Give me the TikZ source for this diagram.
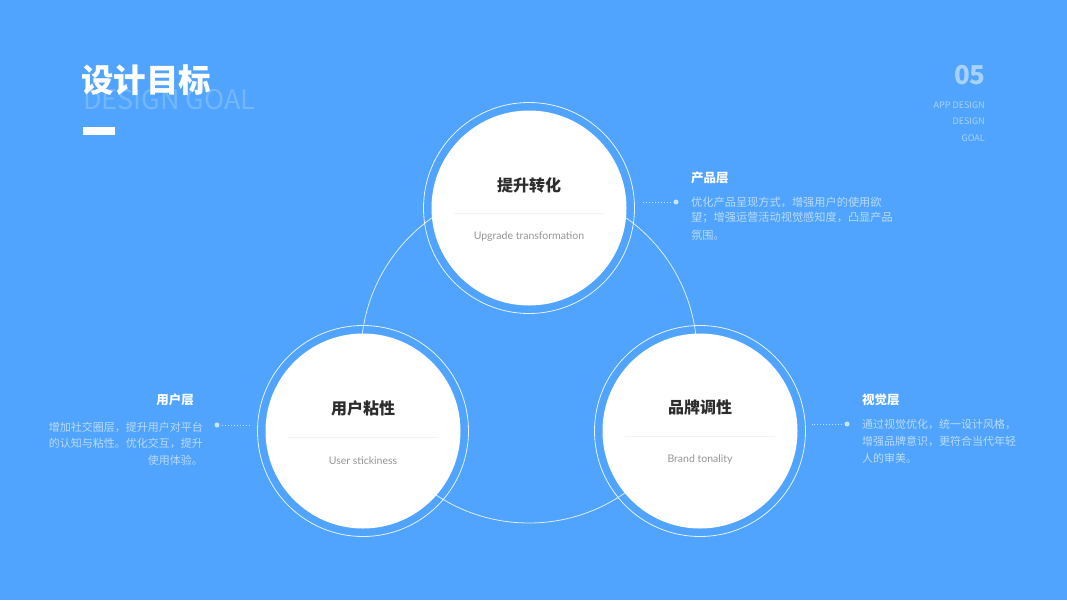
\documentclass[tikz,border=0pt]{standalone}
\usepackage{fontspec}
\newfontfamily\cjk{Noto Sans CJK SC}
\newfontfamily\lato{Lato}
\definecolor{bg}{RGB}{80,164,253}
\definecolor{ttl}{RGB}{45,45,45}
\definecolor{subc}{RGB}{150,150,150}
\definecolor{divl}{RGB}{243,243,243}
\begin{document}
\begin{tikzpicture}[x=1pt,y=-1pt,
  disc/.style={circle,fill=white,minimum size=195pt,inner sep=0pt},
  ring/.style={circle,draw=white,draw opacity=0.85,line width=0.8pt,minimum size=211pt,inner sep=0pt},
  bigring/.style={circle,draw=white,draw opacity=0.8,line width=0.8pt,minimum size=336pt,inner sep=0pt},
  ctitle/.style={font=\cjk\bfseries\fontsize{16}{18}\selectfont,text=ttl,inner sep=0pt},
  csub/.style={font=\lato\fontsize{10.5}{12}\selectfont,text=subc,inner sep=0pt},
  divider/.style={draw=divl,line width=0.9pt},
  btitle/.style={font=\cjk\bfseries\fontsize{12.5}{14}\selectfont,text=white,inner sep=0pt},
  btext/.style={font=\cjk\fontsize{11}{13}\selectfont,text=white,text opacity=0.6,inner sep=0pt},
  btextw/.style={font=\cjk\fontsize{11.2}{13}\selectfont,text=white,text opacity=0.6,inner sep=0pt},
  dotnode/.style={circle,fill=white,fill opacity=0.7,minimum size=5pt,inner sep=0pt},
  dotline/.style={draw=white,draw opacity=0.65,line width=0.7pt,dash pattern=on 1pt off 2pt},
  faint/.style={text=white,text opacity=0.5,inner sep=0pt}
]
\useasboundingbox (0,0) rectangle (1067,600);
\fill[bg] (0,0) rectangle (1067,600);

% header
\node[font=\cjk\fontsize{27}{30}\selectfont,text=white,text opacity=0.2,anchor=west,inner sep=0pt] (hdren) at (83,100) {DESIGN GOAL};
\node[font=\cjk\bfseries\fontsize{32.5}{36}\selectfont,text=white,anchor=west,inner sep=0pt] (hdr) at (81,80) {设计目标};
\fill[white] (83,127) rectangle (115,135);

\node[faint,font=\cjk\bfseries\fontsize{26}{28}\selectfont,anchor=east] (num) at (986,75) {05};
\node[faint,font=\cjk\fontsize{9}{10}\selectfont,anchor=east] (l1) at (985,105) {APP DESIGN};
\node[faint,font=\cjk\fontsize{9}{10}\selectfont,anchor=east] (l2) at (985,121) {DESIGN};
\node[faint,font=\cjk\fontsize{9}{10}\selectfont,anchor=east] (l3) at (985,138) {GOAL};

% big connecting circle
\node[bigring] (big) at (529,355) {};

% rings and discs
\node[ring] (rt) at (529,208) {};
\node[ring] (rl) at (363,431) {};
\node[ring] (rr) at (700,431) {};
\node[disc] (t) at (529,208) {};
\node[disc] (l) at (363,431) {};
\node[disc] (r) at (700,431) {};

% circle contents
\node[ctitle] (tt) at ([shift={(0,-23)}]t.center) {提升转化};
\draw[divider] ([shift={(-75,5)}]t.center) -- ([shift={(75,5)}]t.center);
\node[csub] (ts) at ([shift={(0,29)}]t.center) {Upgrade transformation};

\node[ctitle] (lt) at ([shift={(0,-23)}]l.center) {用户粘性};
\draw[divider] ([shift={(-75,6)}]l.center) -- ([shift={(75,6)}]l.center);
\node[csub] (ls) at ([shift={(0,30)}]l.center) {User stickiness};

\node[ctitle] (rtt) at ([shift={(0,-24)}]r.center) {品牌调性};
\draw[divider] ([shift={(-75,5)}]r.center) -- ([shift={(75,5)}]r.center);
\node[csub] (rs) at ([shift={(0,29)}]r.center) {Brand tonality};

% top right block
\node[btitle,anchor=west] (pt) at (691,178) {产品层};
\node[btextw,anchor=west] (p1) at (691,202) {优化产品呈现方式，增强用户的使用欲};
\node[btextw,anchor=west] (p2) at (691,218) {望；增强运营活动视觉感知度，凸显产品};
\node[btextw,anchor=west] (p3) at (691,235) {氛围。};
\node[dotnode] (pd) at (676,202) {};
\coordinate (pe) at (642,202);
\draw[dotline,shorten <=2pt] (pd) -- (pe);

% left block
\node[btitle,anchor=east] (ut) at (194,400) {用户层};
\node[btext,anchor=east] (u1) at (203,427) {增加社交圈层，提升用户对平台};
\node[btext,anchor=east] (u2) at (203,443) {的认知与粘性。优化交互，提升};
\node[btext,anchor=east] (u3) at (203,460) {使用体验。};
\node[dotnode] (ud) at (217,425) {};
\coordinate (ue) at (249,425);
\draw[dotline,shorten <=2pt] (ud) -- (ue);

% right block
\node[btitle,anchor=west] (vt) at (862,400) {视觉层};
\node[btext,anchor=west] (v1) at (862,424) {通过视觉优化，统一设计风格，};
\node[btext,anchor=west] (v2) at (862,441) {增强品牌意识，更符合当代年轻};
\node[btext,anchor=west] (v3) at (862,458) {人的审美。};
\node[dotnode] (vd) at (847,424) {};
\coordinate (ve) at (812,424);
\draw[dotline,shorten <=2pt] (vd) -- (ve);
\end{tikzpicture}
\end{document}
